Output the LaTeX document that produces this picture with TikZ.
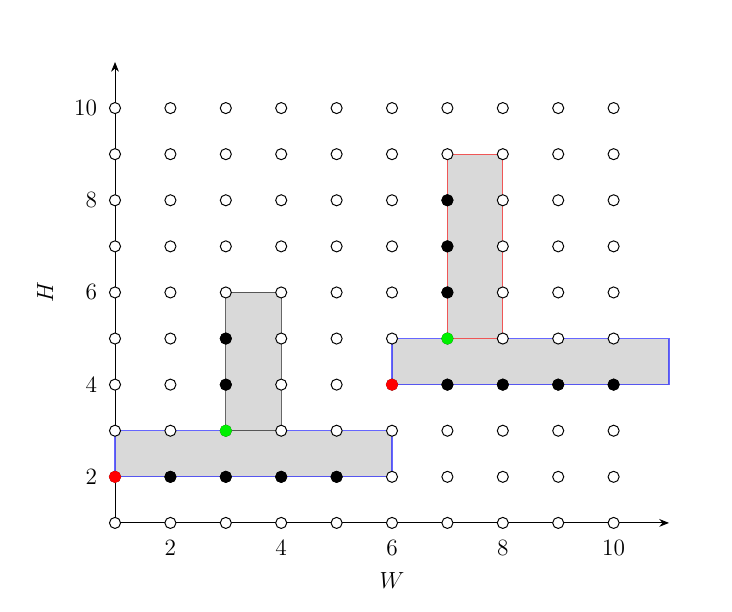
\documentclass[tikz,border=0pt]{standalone}
\usepackage{tikz}
\usetikzlibrary{arrows.meta}
\definecolor{boxgray}{RGB}{217,217,217}
\definecolor{ptgreen}{RGB}{0,240,0}
\tikzset{
  pt/.style={circle, draw=black, fill=white, minimum size=0.2cm,
    inner sep=0pt, line width=0.5pt},
  blackpt/.style={pt, fill=black},
  redpt/.style={pt, draw=red, fill=red},
  greenpt/.style={pt, draw=ptgreen, fill=ptgreen},
  box/.style={fill=boxgray, line width=0.6pt, draw opacity=0.6},
  axis/.style={-{Stealth[length=5pt, width=4pt]}, line width=0.45pt},
  ticklabel/.style={font=\large}
}
\begin{document}
\begin{tikzpicture}[x=1cm, y=0.832cm]
  \useasboundingbox (-1.076,-0.93) rectangle (12.137,12.345);

  % axes
  \coordinate (origin) at (1,1);
  \coordinate (xtip) at (11,1);
  \coordinate (ytip) at (1,11);
  \draw[axis] (origin) -- (xtip);
  \draw[axis] (origin) -- (ytip);

  \foreach \t in {2,4,6,8,10} {
    \node[ticklabel] (xl-\t) at (\t,0.46) {$\t$};
    \node[ticklabel, anchor=east] (yl-\t) at (0.8,\t) {$\t$};
  }
  \node[ticklabel] (wlabel) at (6,-0.24) {$W$};
  \node[ticklabel, rotate=90] (hlabel) at (-0.26,6) {$H$};

  % boxes
  \draw[box, draw=blue] (1,2) rectangle (6,3);
  \draw[box, draw=black] (3,3) rectangle (4,6);
  \draw[box, draw=blue] (6,4) rectangle (11,5);
  \draw[box, draw=red] (7,5) rectangle (8,9);

  % grid points
  \foreach \x in {1,...,10}
    \foreach \y in {1,...,10}
      \node[pt] (p-\x-\y) at (\x,\y) {};

  \foreach \x/\y in {2/2,3/2,4/2,5/2,3/4,3/5,7/6,7/7,7/8,7/4,8/4,9/4,10/4}
    \node[blackpt] at (p-\x-\y) {};
  \node[redpt] at (p-1-2) {};
  \node[redpt] at (p-6-4) {};
  \node[greenpt] at (p-3-3) {};
  \node[greenpt] at (p-7-5) {};
\end{tikzpicture}
\end{document}
